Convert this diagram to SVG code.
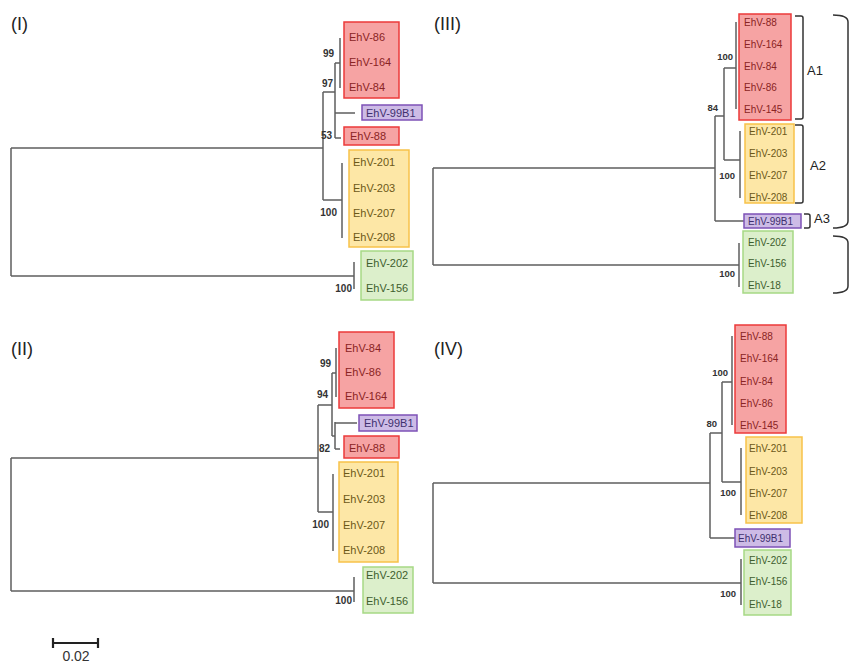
<svg xmlns="http://www.w3.org/2000/svg" width="853" height="664" viewBox="0 0 853 664">
<style>
.t{fill:none;stroke:#5f5f5f;stroke-width:1.5}
.br{fill:none;stroke:#333;stroke-width:1.5}
.red{fill:#f6a3a3;stroke:#ec3a3a;stroke-width:1.5}
.yel{fill:#fde7a6;stroke:#f7c24a;stroke-width:1.5}
.grn{fill:#dcefcb;stroke:#a6d985;stroke-width:1.5}
.pur{fill:#cdbbe6;stroke:#7d52b6;stroke-width:1.5}
text{font-family:"Liberation Sans",Arial,sans-serif}
.l{font-size:11px}
.s{font-size:10px}
.tr{fill:#8a2424}
.ty{fill:#6c5818}
.tg{fill:#3e5e2e}
.tp{fill:#40306e}
.bs{font-size:10px;font-weight:bold;fill:#333;text-anchor:end}
.bs2{font-size:9.5px;font-weight:bold;fill:#333;text-anchor:end}
.pl{font-size:18px;fill:#222}
.al{font-size:13px;fill:#222}
</style>
<rect width="853" height="664" fill="#fff"/>
<g id="connectors">
<path class="t" d="M11,148 V276 M11,148 H323 M11,276 H354 M323,92 V200 M323,92 H335 M335,63 V138 M335,63 H340 M340,38 V88 M335,113 H355 M335,138 H341 M323,200 H342 M342,163 V238 M354,262 V289"/>
<path class="t" d="M11,458 V591 M11,458 H318 M11,591 H354 M318,405 V512 M318,405 H332 M332,373 V436 M332,373 H336 M336,348 V397 M332,436 H335 M335,422 V449 M335,423 H357 M335,449 H340 M318,512 H333 M333,474 V551 M354,577 V602"/>
<path class="t" d="M433,168 V265 M433,168 H715 M433,265 H739 M715,116 V221 M715,116 H724 M724,68 V160 M724,68 H736 M736,22 V109 M724,160 H740 M740,131 V198 M715,221 H744 M739,243 V287"/>
<path class="t" d="M433,483 V583 M433,483 H710 M433,583 H741 M710,433 V538 M710,433 H722 M722,382 V482 M722,382 H732 M732,336 V425 M722,482 H741 M741,448 V515 M710,538 H735 M741,559 V605"/>
</g>
<g id="bootstrap">
<text class="bs" x="334" y="57">99</text>
<text class="bs" x="333" y="87">97</text>
<text class="bs" x="332" y="139">53</text>
<text class="bs" x="337" y="216">100</text>
<text class="bs" x="352" y="292">100</text>
<text class="bs" x="331" y="367">99</text>
<text class="bs" x="328" y="398">94</text>
<text class="bs" x="330" y="452">82</text>
<text class="bs" x="329" y="528">100</text>
<text class="bs" x="352" y="604">100</text>
<text class="bs2" x="733" y="60">100</text>
<text class="bs2" x="718" y="111">84</text>
<text class="bs2" x="735" y="179">100</text>
<text class="bs2" x="735" y="277">100</text>
<text class="bs2" x="728" y="376">100</text>
<text class="bs2" x="717" y="427">80</text>
<text class="bs2" x="736" y="496">100</text>
<text class="bs2" x="736" y="597">100</text>
</g>
<g id="p1-red">
<rect class="red" x="344" y="22" width="55" height="76"/>
<text class="l tr" x="349" y="41">EhV-86</text>
<text class="l tr" x="349" y="66">EhV-164</text>
<text class="l tr" x="349" y="91">EhV-84</text>
</g>
<g id="p1-99B1">
<rect class="pur" x="362" y="105" width="60" height="15"/>
<text class="l tp" x="366" y="117">EhV-99B1</text>
</g>
<g id="p1-88">
<rect class="red" x="344" y="127" width="55" height="18"/>
<text class="l tr" x="350" y="140">EhV-88</text>
</g>
<g id="p1-yellow">
<rect class="yel" x="349" y="150" width="60" height="97"/>
<text class="l ty" x="353" y="166">EhV-201</text>
<text class="l ty" x="353" y="192">EhV-203</text>
<text class="l ty" x="353" y="217">EhV-207</text>
<text class="l ty" x="353" y="241">EhV-208</text>
</g>
<g id="p1-green">
<rect class="grn" x="361" y="251" width="52" height="49"/>
<text class="l tg" x="366" y="267">EhV-202</text>
<text class="l tg" x="366" y="292">EhV-156</text>
</g>
<g id="p2-red">
<rect class="red" x="339" y="332" width="55" height="76"/>
<text class="l tr" x="345" y="352">EhV-84</text>
<text class="l tr" x="345" y="376">EhV-86</text>
<text class="l tr" x="345" y="400">EhV-164</text>
</g>
<g id="p2-99B1">
<rect class="pur" x="359" y="415" width="58" height="16"/>
<text class="l tp" x="364" y="427">EhV-99B1</text>
</g>
<g id="p2-88">
<rect class="red" x="344" y="436" width="55" height="22"/>
<text class="l tr" x="349" y="452">EhV-88</text>
</g>
<g id="p2-yellow">
<rect class="yel" x="339" y="462" width="59" height="100"/>
<text class="l ty" x="343" y="477">EhV-201</text>
<text class="l ty" x="343" y="503">EhV-203</text>
<text class="l ty" x="343" y="529">EhV-207</text>
<text class="l ty" x="343" y="554">EhV-208</text>
</g>
<g id="p2-green">
<rect class="grn" x="363" y="567" width="50" height="46"/>
<text class="l tg" x="366" y="579">EhV-202</text>
<text class="l tg" x="366" y="605">EhV-156</text>
</g>
<g id="p3-red">
<rect class="red" x="739" y="14" width="52" height="106"/>
<text class="s tr" x="744" y="25.5">EhV-88</text>
<text class="s tr" x="744" y="47.5">EhV-164</text>
<text class="s tr" x="744" y="69.5">EhV-84</text>
<text class="s tr" x="744" y="90.5">EhV-86</text>
<text class="s tr" x="744" y="112.5">EhV-145</text>
</g>
<g id="p3-yellow">
<rect class="yel" x="745" y="124" width="49" height="79"/>
<text class="s ty" x="749" y="134.5">EhV-201</text>
<text class="s ty" x="749" y="156.5">EhV-203</text>
<text class="s ty" x="749" y="178.5">EhV-207</text>
<text class="s ty" x="749" y="201">EhV-208</text>
</g>
<g id="p3-99B1">
<rect class="pur" x="744" y="214" width="57" height="14"/>
<text class="s tp" x="748" y="224.5">EhV-99B1</text>
</g>
<g id="p3-green">
<rect class="grn" x="743" y="231" width="50" height="62"/>
<text class="s tg" x="748" y="245.5">EhV-202</text>
<text class="s tg" x="748" y="266.5">EhV-156</text>
<text class="s tg" x="748" y="288.5">EhV-18</text>
</g>
<g id="p3-brackets">
<path class="br" d="M795,16 H801 Q803,16 803,18 V117 Q803,119 801,119 H795"/>
<path class="br" d="M795,125 H801 Q803,125 803,127 V201 Q803,203 801,203 H795"/>
<path class="br" d="M804,214 H808 Q810,214 810,216 V226 Q810,228 808,228 H804"/>
<path class="br" d="M833,15 Q848,15 848,22 V221 Q848,228 833,228"/>
<path class="br" d="M833,236 Q848,236 848,243 V286 Q848,293 833,293"/>
<text class="al" x="807" y="75">A1</text>
<text class="al" x="810" y="170">A2</text>
<text class="al" x="814" y="223">A3</text>
</g>
<g id="p4-red">
<rect class="red" x="735" y="325" width="51" height="108"/>
<text class="s tr" x="740" y="339.5">EhV-88</text>
<text class="s tr" x="740" y="361.5">EhV-164</text>
<text class="s tr" x="740" y="384.5">EhV-84</text>
<text class="s tr" x="740" y="406.5">EhV-86</text>
<text class="s tr" x="740" y="428.5">EhV-145</text>
</g>
<g id="p4-yellow">
<rect class="yel" x="746" y="437" width="56" height="86"/>
<text class="s ty" x="749" y="451.5">EhV-201</text>
<text class="s ty" x="749" y="474.5">EhV-203</text>
<text class="s ty" x="749" y="496.5">EhV-207</text>
<text class="s ty" x="749" y="518.5">EhV-208</text>
</g>
<g id="p4-99B1">
<rect class="pur" x="735" y="529" width="55" height="18"/>
<text class="s tp" x="738" y="541.5">EhV-99B1</text>
</g>
<g id="p4-green">
<rect class="grn" x="744" y="550" width="47" height="65"/>
<text class="s tg" x="749" y="563.5">EhV-202</text>
<text class="s tg" x="749" y="584.5">EhV-156</text>
<text class="s tg" x="749" y="607.5">EhV-18</text>
</g>
<g id="panel-labels">
<text class="pl" x="11" y="30">(I)</text>
<text class="pl" x="11" y="355">(II)</text>
<text class="pl" x="434" y="30">(III)</text>
<text class="pl" x="434" y="355">(IV)</text>
</g>
<g id="scale-bar">
<path d="M53,643 H98 M53,638 V648 M98,638 V648" fill="none" stroke="#222" stroke-width="2.2"/>
<text x="76" y="661" font-size="14" fill="#333" text-anchor="middle">0.02</text>
</g>
</svg>
